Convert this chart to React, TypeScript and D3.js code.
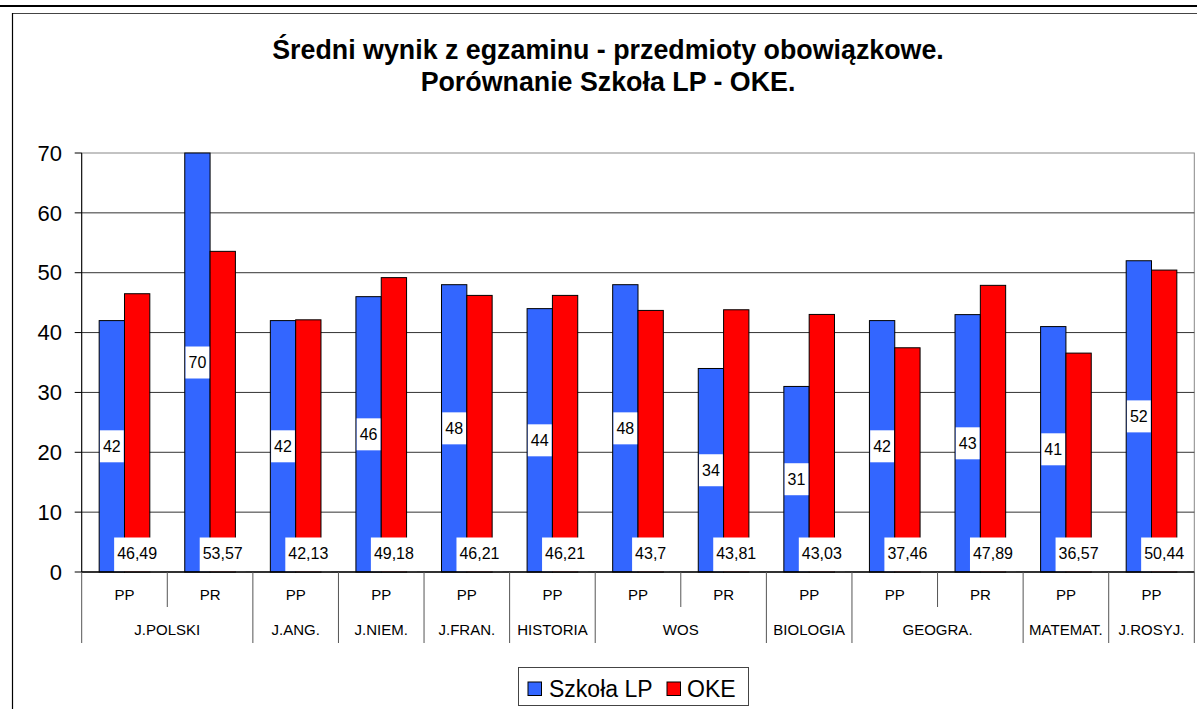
import React from 'react';
import * as d3 from 'd3';

const subLabels = ['PP', 'PR', 'PP', 'PP', 'PP', 'PP', 'PP', 'PR', 'PP', 'PP', 'PR', 'PP', 'PP'];
const groups = [
  { name: 'J.POLSKI', from: 0, to: 1 },
  { name: 'J.ANG.', from: 2, to: 2 },
  { name: 'J.NIEM.', from: 3, to: 3 },
  { name: 'J.FRAN.', from: 4, to: 4 },
  { name: 'HISTORIA', from: 5, to: 5 },
  { name: 'WOS', from: 6, to: 7 },
  { name: 'BIOLOGIA', from: 8, to: 8 },
  { name: 'GEOGRA.', from: 9, to: 10 },
  { name: 'MATEMAT.', from: 11, to: 11 },
  { name: 'J.ROSYJ.', from: 12, to: 12 },
];
const szkola = [42, 70, 42, 46, 48, 44, 48, 34, 31, 42, 43, 41, 52];
const oke = [46.49, 53.57, 42.13, 49.18, 46.21, 46.21, 43.7, 43.81, 43.03, 37.46, 47.89, 36.57, 50.44];
const yTicks = [0, 10, 20, 30, 40, 50, 60, 70];

const FONT = '"Liberation Sans", Arial, sans-serif';
const BLUE = '#3366FF';
const RED = '#FF0000';

const fmt = (v: number) => String(v).replace('.', ',');

let ctx: CanvasRenderingContext2D | null = null;
const textWidth = (s: string, size: number) => {
  if (!ctx) ctx = document.createElement('canvas').getContext('2d');
  if (!ctx) return s.length * size * 0.55;
  ctx.font = `${size}px ${FONT}`;
  return ctx.measureText(s).width;
};

export default function App() {
  const W = 1197, H = 709;
  const left = 81.7, right = 1194.3, top = 153, bottom = 572;

  const x0 = d3.scaleBand<number>().domain(d3.range(subLabels.length)).range([left, right]);
  const x1 = d3.scaleBand<string>().domain(['s', 'o']).range([0, x0.bandwidth()]).paddingOuter(0.69);
  const y = d3.scaleLinear().domain([0, 70]).range([bottom, top]);

  const bw = x1.bandwidth();
  const labelSize = 16;

  return (
    <svg width={W} height={H} style={{ position: 'absolute', left: 0, top: 0, background: '#fff' }} fontFamily={FONT}>
      <rect width={W} height={H} fill="#fff" />
      <line x1={0} x2={W} y1={6} y2={6} stroke="#000" strokeWidth={2} />
      <line x1={12} x2={W} y1={13.5} y2={13.5} stroke="#444" strokeWidth={1} />
      <line x1={12.5} x2={12.5} y1={13} y2={H} stroke="#000" strokeWidth={1.2} />

      <text x={608} y={59} textAnchor="middle" fontWeight="bold" fontSize={26.8}>Średni wynik z egzaminu - przedmioty obowiązkowe.</text>
      <text x={608} y={91} textAnchor="middle" fontWeight="bold" fontSize={26.8}>Porównanie Szkoła LP - OKE.</text>

      {/* plot area */}
      <rect x={left} y={top} width={right - left} height={bottom - top} fill="none" stroke="#888" />
      {yTicks.filter(t => t > 0 && t < 70).map(t => (
        <line key={t} x1={left} x2={right} y1={y(t)} y2={y(t)} stroke="#333" strokeWidth={1} />
      ))}
      {yTicks.map(t => (
        <g key={t}>
          <line x1={left - 7} x2={left} y1={y(t)} y2={y(t)} stroke="#000" />
          <text x={62} y={y(t)} dy="0.35em" textAnchor="end" fontSize={22}>{t}</text>
        </g>
      ))}
      <line x1={left} x2={left} y1={top} y2={bottom} stroke="#000" />

      {/* bars */}
      {subLabels.map((_, i) => (
        <g key={i} transform={`translate(${x0(i)},0)`}>
          <rect x={x1('s')} y={y(szkola[i])} width={bw} height={y(0) - y(szkola[i])} fill={BLUE} stroke="#000" strokeWidth={1} />
          <rect x={x1('o')} y={y(oke[i])} width={bw} height={y(0) - y(oke[i])} fill={RED} stroke="#000" strokeWidth={1} />
        </g>
      ))}

      {/* labels */}
      {subLabels.map((_, i) => {
        const cs = (x0(i) as number) + (x1('s') as number) + bw / 2;
        const co = (x0(i) as number) + (x1('o') as number) + bw / 2;
        const ms = (y(szkola[i]) + y(0)) / 2;
        const ws = textWidth(fmt(szkola[i]), labelSize) + 6;
        const wo = textWidth(fmt(oke[i]), labelSize) + 6;
        return (
          <g key={i} fontSize={labelSize}>
            <rect x={cs - ws / 2} y={ms - 16} width={ws} height={32} fill="#fff" />
            <text x={cs} y={ms} dy="0.35em" textAnchor="middle">{fmt(szkola[i])}</text>
            <rect x={co - wo / 2} y={bottom - 34.5} width={wo} height={34} fill="#fff" />
            <text x={co} y={bottom - 19} dy="0.35em" textAnchor="middle">{fmt(oke[i])}</text>
          </g>
        );
      })}

      {/* category axis */}
      <line x1={left} x2={right} y1={bottom} y2={bottom} stroke="#000" strokeWidth={1.5} />
      {d3.range(subLabels.length + 1).map(i => {
        const xx = i < subLabels.length ? (x0(i) as number) : right;
        const isGroup = i === 0 || i === subLabels.length || groups.some(g => g.from === i);
        return <line key={i} x1={xx} x2={xx} y1={bottom} y2={isGroup ? 643 : 607} stroke="#555" />;
      })}
      {subLabels.map((s, i) => (
        <text key={i} x={(x0(i) as number) + x0.bandwidth() / 2} y={595} dy="0.35em" textAnchor="middle" fontSize={15}>{s}</text>
      ))}
      {groups.map(g => {
        const a = x0(g.from) as number;
        const b = (x0(g.to) as number) + x0.bandwidth();
        return <text key={g.name} x={(a + b) / 2} y={630} dy="0.35em" textAnchor="middle" fontSize={15}>{g.name}</text>;
      })}

      {/* legend */}
      <rect x={518.5} y={667.5} width={230} height={38} fill="#fff" stroke="#444" />
      <rect x={528} y={682} width={13.5} height={13.5} fill={BLUE} stroke="#000" />
      <text x={549} y={688.5} dy="0.35em" fontSize={23}>Szkoła LP</text>
      <rect x={667} y={682} width={13.5} height={13.5} fill={RED} stroke="#000" />
      <text x={687} y={688.5} dy="0.35em" fontSize={23}>OKE</text>
    </svg>
  );
}
